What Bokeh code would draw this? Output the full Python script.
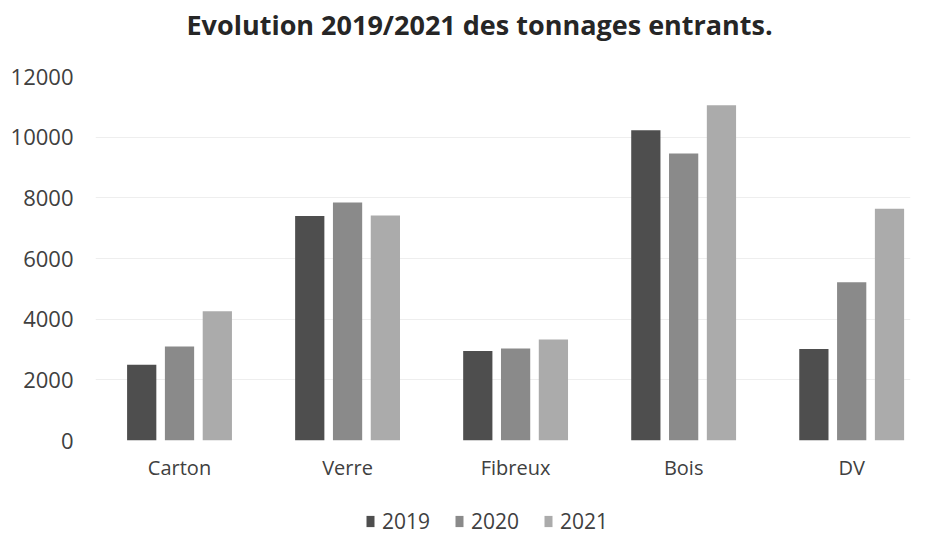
from bokeh.plotting import figure
from bokeh.layouts import column
from bokeh.models import ColumnDataSource, FixedTicker, Legend, LegendItem, Range1d
from bokeh.transform import dodge
from bokeh.embed import file_html
from bokeh.resources import INLINE

categories = ["Carton", "Verre", "Fibreux", "Bois", "DV"]
years = ["2019", "2020", "2021"]
v2019 = [2500, 7400, 2950, 10230, 3020]
v2020 = [3100, 7850, 3030, 9460, 5220]
v2021 = [4260, 7420, 3330, 11050, 7640]
y_ticks = [0, 2000, 4000, 6000, 8000, 10000, 12000]
colors = ["#4e4e4e", "#8a8a8a", "#ababab"]
title_text = "Evolution 2019/2021 des tonnages entrants."

FONT = "Open Sans"
W = 918

src = ColumnDataSource(dict(
    x=list(range(len(categories))),
    cat=categories,
    y2019=v2019, y2020=v2020, y2021=v2021,
))


def strip(height):
    f = figure(width=W, height=height, x_range=Range1d(-0.5, 4.35), y_range=Range1d(20000, 20001),
               output_backend="svg", toolbar_location=None,
               x_axis_type=None, y_axis_type=None,
               min_border_left=95, min_border_right=8, min_border_top=0, min_border_bottom=0)
    f.outline_line_color = None
    f.grid.grid_line_color = None
    return f


# title strip
tf = strip(60)
tf.title.text = title_text
tf.title.align = "left"
tf.title.offset = 91
tf.title.text_font = FONT
tf.title.text_font_size = "27px"
tf.title.text_font_style = "bold"
tf.title.text_color = "#262626"
tf.title.standoff = 6

# main chart
p = figure(width=W, height=441,
           x_range=Range1d(-0.5, 4.35), y_range=Range1d(0, 12000),
           output_backend="svg", toolbar_location=None,
           min_border_left=95, min_border_right=8,
           min_border_top=16, min_border_bottom=61)

offsets = [-0.225, 0.0, 0.225]
for yr, off, col in zip(years, offsets, colors):
    p.vbar(x=dodge("x", off), top="y" + yr, width=0.174, source=src,
           fill_color=col, line_color=None)

p.xaxis.ticker = FixedTicker(ticks=list(range(len(categories))))
p.xaxis.major_label_overrides = {i: c for i, c in enumerate(categories)}
p.yaxis.ticker = FixedTicker(ticks=y_ticks)
for ax in (p.xaxis, p.yaxis):
    ax.axis_line_color = None
    ax.major_tick_line_color = None
    ax.minor_tick_line_color = None
    ax.major_label_text_font = FONT
    ax.major_label_text_color = "#404040"
p.xaxis.major_label_text_font_size = "20px"
p.yaxis.major_label_text_font_size = "22px"
p.xaxis.major_label_standoff = 7
p.yaxis.major_label_standoff = 16

p.xgrid.grid_line_color = None
p.ygrid.grid_line_color = "#eeeeee"
p.ygrid.grid_line_width = 1
p.outline_line_color = None

# legend strip (same bars, drawn out of view; only their legend swatches show)
lg = strip(34)
lrs = [lg.vbar(x=dodge("x", off), top="y" + yr, width=0.174, source=src,
               fill_color=col, line_color=None)
       for yr, off, col in zip(years, offsets, colors)]
legend = Legend(items=[LegendItem(label=yr, renderers=[r]) for yr, r in zip(years, lrs)],
                orientation="horizontal", location=(270, 0),
                glyph_width=10, glyph_height=14, label_standoff=7, spacing=24,
                padding=0, margin=0, border_line_color=None, background_fill_alpha=0,
                label_text_font=FONT, label_text_font_size="21px", label_text_color="#404040")
lg.add_layout(legend, "center")

layout = column(tf, p, lg, spacing=0)
open("out.html", "w").write(file_html(layout, INLINE))
